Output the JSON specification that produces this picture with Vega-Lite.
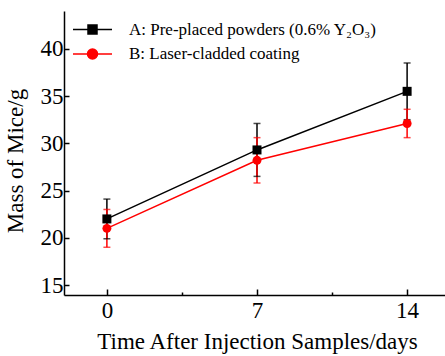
{
  "$schema": "https://vega.github.io/schema/vega-lite/v6.json",
  "width": 386,
  "height": 284,
  "autosize": {"type": "none"},
  "padding": {"left": 64, "top": 11, "right": 0, "bottom": 61},
  "background": "white",
  "config": {
    "view": {"stroke": "transparent", "strokeWidth": 0},
    "axis": {
      "grid": false,
      "domainColor": "black",
      "domainWidth": 1.5,
      "tickColor": "black",
      "tickWidth": 1.5,
      "labelFont": "Liberation Serif",
      "labelFontSize": 23,
      "labelColor": "black",
      "titleFont": "Liberation Serif",
      "titleFontSize": 23,
      "titleFontWeight": "normal",
      "titleColor": "black"
    },
    "legend": {
      "labelFont": "Liberation Serif",
      "labelFontSize": 17,
      "labelColor": "black",
      "labelLimit": 0
    }
  },
  "data": {
    "values": [
      {"series": "A: Pre-placed powders (0.6% Y₂O₃)", "day": 0, "mass": 22.0, "lo": 19.9, "hi": 24.1},
      {"series": "A: Pre-placed powders (0.6% Y₂O₃)", "day": 7, "mass": 29.3, "lo": 26.5, "hi": 32.1},
      {"series": "A: Pre-placed powders (0.6% Y₂O₃)", "day": 14, "mass": 35.5, "lo": 32.5, "hi": 38.5},
      {"series": "B: Laser-cladded coating", "day": 0, "mass": 21.0, "lo": 19.0, "hi": 23.0},
      {"series": "B: Laser-cladded coating", "day": 7, "mass": 28.2, "lo": 25.8, "hi": 30.6},
      {"series": "B: Laser-cladded coating", "day": 14, "mass": 32.1, "lo": 30.6, "hi": 33.6}
    ]
  },
  "encoding": {
    "x": {
      "field": "day",
      "type": "quantitative",
      "scale": {"domain": [-2, 16], "nice": false, "zero": false},
      "axis": {
        "title": "Time After Injection Samples/days",
        "values": [0, 3.5, 7, 10.5, 14],
        "labelExpr": "datum.value % 7 === 0 ? datum.label : ''",
        "tickSize": {"condition": {"test": "datum.value % 7 === 0", "value": -6}, "value": -3},
        "labelPadding": 10,
        "titlePadding": 8,
        "titleX": 193,
        "labelFlush": false
      }
    },
    "color": {
      "field": "series",
      "type": "nominal",
      "scale": {"domain": ["A: Pre-placed powders (0.6% Y₂O₃)", "B: Laser-cladded coating"], "range": ["black", "red"]}
    }
  },
  "layer": [
    {
      "data": {"values": [{"top": 44}]},
      "mark": {"type": "rule", "strokeWidth": 1.5},
      "encoding": {
        "x": {"datum": -2, "type": "quantitative"},
        "x2": {"datum": 16},
        "y": {"field": "top", "type": "quantitative"},
        "color": {"value": "black"}
      }
    },
    {
      "mark": {"type": "rule", "strokeWidth": 1.5},
      "encoding": {
        "y": {"field": "lo", "type": "quantitative"},
        "y2": {"field": "hi"}
      }
    },
    {
      "mark": {"type": "tick", "orient": "horizontal", "size": 7, "thickness": 1.5},
      "encoding": {"y": {"field": "hi", "type": "quantitative"}}
    },
    {
      "mark": {"type": "tick", "orient": "horizontal", "size": 7, "thickness": 1.5},
      "encoding": {"y": {"field": "lo", "type": "quantitative"}}
    },
    {
      "mark": {"type": "line", "strokeWidth": 1.5},
      "encoding": {
        "y": {
          "field": "mass",
          "type": "quantitative",
          "scale": {"domain": [13.95, 44], "nice": false, "zero": false},
          "axis": {
            "title": "Mass of Mice/g",
            "values": [15, 17.5, 20, 22.5, 25, 27.5, 30, 32.5, 35, 37.5, 40, 42.5],
            "labelExpr": "datum.value % 5 === 0 ? datum.label : ''",
            "tickSize": {"condition": {"test": "datum.value % 5 === 0", "value": -5}, "value": -3},
            "labelPadding": 6,
            "titlePadding": 13,
            "titleY": 149.5,
            "labelFlush": false
          }
        }
      }
    },
    {
      "transform": [{"filter": "indexof(datum.series, 'A:') === 0"}],
      "mark": {"type": "point", "shape": "square", "filled": true, "opacity": 1, "size": 81},
      "encoding": {"y": {"field": "mass", "type": "quantitative"}}
    },
    {
      "transform": [{"filter": "indexof(datum.series, 'B:') === 0"}],
      "mark": {"type": "point", "shape": "circle", "filled": true, "opacity": 1, "size": 80},
      "encoding": {"y": {"field": "mass", "type": "quantitative"}}
    },
    {
      "mark": {"type": "point", "filled": true, "opacity": 0, "size": 100},
      "encoding": {
        "y": {"field": "mass", "type": "quantitative"},
        "shape": {
          "field": "series",
          "type": "nominal",
          "scale": {
            "domain": ["A: Pre-placed powders (0.6% Y₂O₃)", "B: Laser-cladded coating"],
            "range": ["M-3.9,0H3.9M-0.9,-0.9H0.9V0.9H-0.9Z", "M-3.9,0H3.9M-1,0A1,1 0 1,1 1,0A1,1 0 1,1 -1,0Z"]
          }
        },
        "color": {
          "field": "series",
          "type": "nominal",
          "legend": {
            "title": null,
            "orient": "top-left",
            "offset": 10,
            "labelFont": "Liberation Serif",
            "labelFontSize": 17,
            "symbolSize": 100,
            "symbolOpacity": 1,
            "symbolOffset": 10,
            "labelOffset": 28,
            "rowPadding": 6.5,
            "encode": {
              "symbols": {
                "update": {
                  "fill": {"scale": "color", "field": "value"},
                  "stroke": {"scale": "color", "field": "value"},
                  "strokeWidth": {"value": 1.5},
                  "opacity": {"value": 1}
                }
              }
            }
          }
        }
      }
    }
  ]
}
